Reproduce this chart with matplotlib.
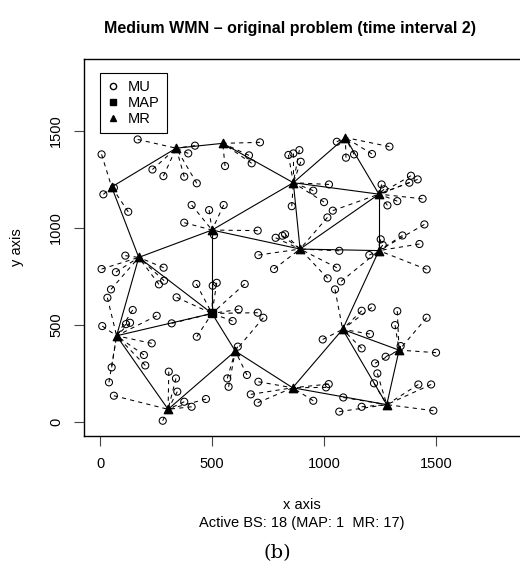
import matplotlib
matplotlib.use('Agg')
import matplotlib.pyplot as plt
from matplotlib.lines import Line2D

plt.rcParams['font.family'] = ['Liberation Sans', 'DejaVu Sans']

# base stations (17 mesh routers + 1 mesh access point at index 10)
bs_x = [52, 340, 548, 863, 1095, 1245, 500, 893, 1245, 173, 500, 74, 604, 304, 860, 1083, 1335, 1280]
bs_y = [1210, 1410, 1435, 1232, 1465, 1173, 988, 890, 882, 847, 558, 443, 364, 64, 175, 476, 369, 88]
bs_kind = ['MR'] * 10 + ['MAP'] + ['MR'] * 7

# backbone links between base stations
links = [(0, 1), (1, 2), (2, 3), (3, 4), (4, 5), (3, 5), (3, 6), (3, 7), (5, 7),
         (5, 8), (6, 7), (7, 8), (6, 9), (6, 10), (0, 9), (9, 10), (9, 11),
         (10, 11), (10, 12), (11, 13), (12, 13), (12, 14), (14, 15), (14, 17),
         (15, 8), (15, 16), (15, 17), (16, 17)]

# mesh users and the station each one is attached to
mu_x = [7, 15, 62, 126,
        168, 424, 394, 234, 283, 376, 432,
        714, 558, 665, 677,
        841, 863, 890, 896, 1022, 952, 856, 1000,
        1292, 1057, 1098, 1134, 1214,
        1257, 1268, 1388, 1381, 1418, 1440, 1283, 1327, 1039,
        409, 487, 552, 376, 509, 704,
        784, 814, 826, 707, 777, 1068, 1057, 1016, 1015,
        1253, 1262, 1350, 1448, 1426, 1458, 1202, 1076,
        113, 7, 71, 49, 284, 263, 286,
        430, 503, 521, 646, 342, 619, 704, 592, 432, 320,
        33, 146, 253, 10, 116, 134, 231, 196, 202, 52, 40,
        615, 568, 574, 656, 729,
        307, 339, 345, 376, 409, 473, 280, 62,
        707, 673, 704, 1009, 1021, 952,
        994, 1168, 1213, 1205, 1168, 1049,
        1327, 1317, 1458, 1500, 1342, 1275, 1228,
        1238, 1223, 1421, 1478, 1488, 1068, 1168, 1086]
mu_y = [1378, 1172, 1206, 1082,
        1455, 1423, 1383, 1300, 1266, 1263, 1229,
        1440, 1318, 1373, 1332,
        1375, 1383, 1400, 1340, 1223, 1191, 1111, 1132,
        1418, 1443, 1361, 1378, 1380,
        1223, 1198, 1268, 1232, 1249, 1149, 1115, 1137, 1088,
        1117, 1091, 1117, 1026, 962, 985,
        948, 959, 966, 859, 787, 881, 794, 739, 1053,
        940, 911, 960, 1017, 916, 785, 859, 723,
        856, 787, 771, 682, 794, 708, 727,
        710, 701, 716, 710, 641, 579, 562, 519, 438, 507,
        639, 576, 546, 493, 503, 510, 404, 344, 290, 280, 203,
        387, 223, 180, 241, 536,
        258, 223, 155, 103, 77, 117, 5, 134,
        206, 141, 98, 177, 194, 108,
        424, 572, 589, 452, 378, 682,
        570, 498, 536, 356, 390, 335, 301,
        249, 198, 192, 192, 57, 52, 77, 125]
mu_bs = [0] * 4 + [1] * 7 + [2] * 4 + [3] * 8 + [4] * 5 + [5] * 9 + [6] * 6 + \
        [7] * 9 + [8] * 8 + [9] * 7 + [10] * 10 + [11] * 11 + [12] * 5 + \
        [13] * 8 + [14] * 6 + [15] * 6 + [16] * 7 + [17] * 8

fig = plt.figure(figsize=(5.2, 5.69), dpi=100)
# plot box runs past the right edge of the image, as in the original
ax = fig.add_axes([0.1613, 0.2343, 0.8475, 0.6628])

# user-to-station links (dashed)
for x, y, b in zip(mu_x, mu_y, mu_bs):
    ax.plot([x, bs_x[b]], [y, bs_y[b]], color='black', lw=0.75,
            linestyle=(0, (4, 4)), zorder=2)

# backbone links (solid)
for a, b in links:
    ax.plot([bs_x[a], bs_x[b]], [bs_y[a], bs_y[b]], color='black', lw=0.8, zorder=2)

ax.scatter(mu_x, mu_y, s=26, facecolors='none', edgecolors='black',
           linewidths=0.75, zorder=3)

mr_x = [x for x, k in zip(bs_x, bs_kind) if k == 'MR']
mr_y = [y for y, k in zip(bs_y, bs_kind) if k == 'MR']
map_x = [x for x, k in zip(bs_x, bs_kind) if k == 'MAP']
map_y = [y for y, k in zip(bs_y, bs_kind) if k == 'MAP']
ax.scatter(mr_x, mr_y, marker='^', s=36, color='black', zorder=4)
ax.scatter(map_x, map_y, marker='s', s=30, color='black', zorder=4)

ax.set_xlim(-72, 1872 + 0.01 * 1944 / 0.8375)
ax.set_ylim(-72, 1872)
ax.set_xticks([0, 500, 1000, 1500])
ax.set_yticks([0, 500, 1000, 1500])
ax.tick_params(axis='both', direction='out', length=7, width=0.8, labelsize=10.5,
               color='#444444', pad=8)
for lab in ax.get_yticklabels():
    lab.set_rotation(90)
    lab.set_va('center')
for s in ax.spines.values():
    s.set_linewidth(1.0)

handles = [
    Line2D([], [], marker='o', linestyle='none', markerfacecolor='none',
           markeredgecolor='black', markersize=4.5, label='MU'),
    Line2D([], [], marker='s', linestyle='none', color='black', markersize=4.5, label='MAP'),
    Line2D([], [], marker='^', linestyle='none', color='black', markersize=5, label='MR'),
]
leg = ax.legend(handles=handles, loc='upper left', bbox_to_anchor=(0.037, 0.963),
                borderaxespad=0, fancybox=False, edgecolor='black', fontsize=10.5,
                handlelength=0.8, handletextpad=0.6, labelspacing=0.15,
                borderpad=0.5, framealpha=1)
leg.get_frame().set_linewidth(0.8)

fig.text(290 / 520, 1 - 29 / 569, 'Medium WMN \u2013 original problem (time interval 2)',
         ha='center', va='center', fontsize=11.5, fontweight='bold')
fig.text(17 / 520, 1 - 247 / 569, 'y axis', rotation=90, ha='center', va='center',
         fontsize=10.5)
fig.text(302 / 520, 1 - 505 / 569, 'x axis', ha='center', va='center', fontsize=10.5)
fig.text(302 / 520, 1 - 523 / 569, 'Active BS: 18 (MAP: 1  MR: 17)', ha='center',
         va='center', fontsize=10.5)
fig.text(277 / 520, 1 - 553 / 569, '(b)', ha='center', va='center', fontsize=14,
         family=['DejaVu Serif'])

fig.savefig('out.png', dpi=100)
